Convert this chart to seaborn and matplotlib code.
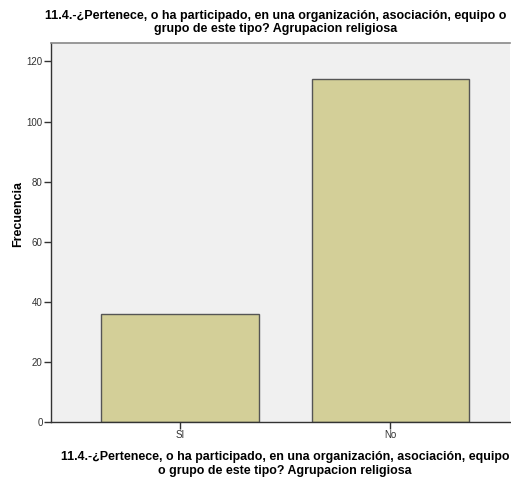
import matplotlib
matplotlib.use("Agg")
import matplotlib.pyplot as plt
import seaborn as sns

# datos
categorias = ["SI", "No"]
frecuencias = [36, 114]
ticks_y = [0, 20, 40, 60, 80, 100, 120]

titulo = "11.4.-¿Pertenece, o ha participado, en una organización, asociación, equipo o\ngrupo de este tipo? Agrupacion religiosa"
etiqueta_x = "11.4.-¿Pertenece, o ha participado, en una organización, asociación, equipo\no grupo de este tipo? Agrupacion religiosa"

sns.set_style("white")
plt.rcParams['font.family'] = ['Liberation Sans', 'DejaVu Sans']
plt.rcParams['text.color'] = 'black'
plt.rcParams['axes.labelcolor'] = 'black'

fig = plt.figure(figsize=(5.11, 4.83), dpi=100)
ax = fig.add_axes([0.0998, 0.127, 0.899, 0.783])
ax.set_facecolor("#F0F0F0")

sns.barplot(x=categorias, y=frecuencias, color="#D3CF98", saturation=1,
            edgecolor="#555555", linewidth=1.0, width=0.75, ax=ax)

ax.set_ylim(0, 126)
ax.set_xlim(-0.614, 1.57)
ax.set_yticks(ticks_y)

for s in ["left", "bottom"]:
    ax.spines[s].set_color("#333333")
    ax.spines[s].set_linewidth(1.0)
ax.spines["top"].set_color("#888888")
ax.spines["top"].set_linewidth(1.2)
ax.spines["right"].set_visible(False)

ax.tick_params(axis="both", which="both", direction="out", length=5, width=1,
               color="#333333", labelsize=7, labelcolor="#333333", pad=1)
ax.tick_params(left=True, bottom=True)

ax.set_ylabel("Frecuencia", fontsize=9, fontweight="bold")
ax.yaxis.set_label_coords(-0.058, 0.55)
ax.set_xlabel(etiqueta_x, fontsize=8.9, fontweight="bold", linespacing=1.2)
ax.xaxis.set_label_coords(0.51, -0.078)
ax.set_title(titulo, fontsize=9.0, fontweight="bold", pad=8, linespacing=1.1, x=0.49,
             color="black")

fig.savefig("out.png", dpi=100)
